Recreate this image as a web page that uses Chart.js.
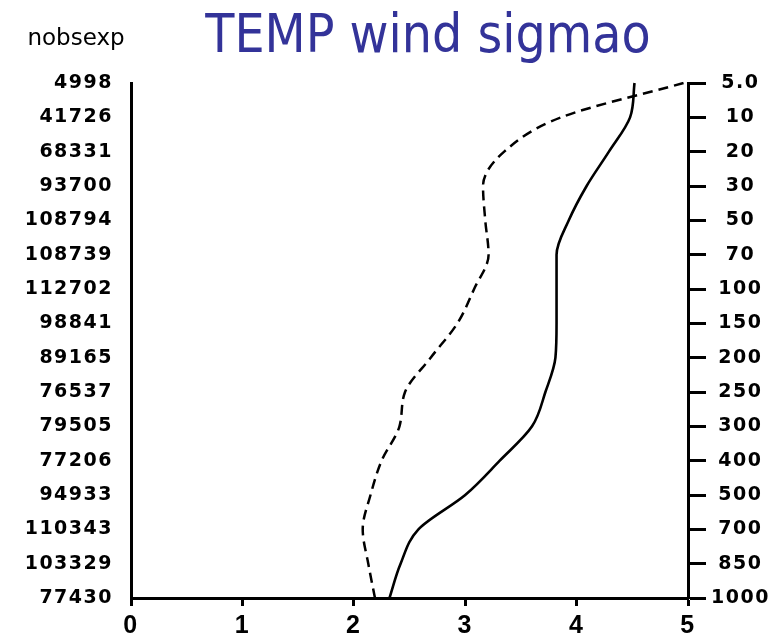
<!DOCTYPE html>
<html lang="en">
<head>
    <meta charset="UTF-8">
    <title>TEMP wind sigmao</title>
    <style>
        body {
            margin: 0;
            background: #fff;
        }
        #wrap {
            width: 780px;
            height: 640px;
        }
    </style>
    <script src="https://cdn.jsdelivr.net/npm/chart.js"></script>
</head>
<body>
    <div id="wrap"><canvas id="sigmaChart" width="780" height="640"></canvas></div>

    <script>
        // pressure levels (hPa), top to bottom
        const levels = ['5.0', '10', '20', '30', '50', '70', '100', '150', '200', '250', '300', '400', '500', '700', '850', '1000'];
        // number of obs used in the experiment at each level
        const nobsexp = [4998, 41726, 68331, 93700, 108794, 108739, 112702, 98841, 89165, 76537, 79505, 77206, 94933, 110343, 103329, 77430];
        // sigma o, solid and dashed curves
        const sigmaSolid = [4.52, 4.48, 4.29, 4.09, 3.93, 3.82, 3.82, 3.82, 3.81, 3.72, 3.60, 3.31, 3.00, 2.58, 2.42, 2.32];
        const sigmaDashed = [4.96, 3.86, 3.35, 3.16, 3.18, 3.21, 3.08, 2.93, 2.69, 2.46, 2.41, 2.25, 2.15, 2.08, 2.13, 2.19];
        const xTicks = [0, 1, 2, 3, 4, 5];

        // the reference labels are drawn in a wide face, so space them out a bit
        const wideLabels = {
            id: 'wideLabels',
            beforeDraw(chart) {
                chart.ctx.letterSpacing = '1.5px';
            },
            afterDraw(chart) {
                chart.ctx.letterSpacing = '0px';
            }
        };

        // title and the "nobsexp" heading
        const headerText = {
            id: 'headerText',
            afterDraw(chart) {
                const ctx = chart.ctx;
                ctx.save();
                ctx.letterSpacing = '0px';
                ctx.fillStyle = '#333399';
                ctx.font = "53px 'Comic Sans MS', 'DejaVu Sans Condensed', 'DejaVu Sans', sans-serif";
                ctx.textAlign = 'center';
                ctx.textBaseline = 'alphabetic';
                ctx.fillText('TEMP wind sigmao', 428, 52);
                ctx.fillStyle = '#000';
                ctx.font = "23px 'DejaVu Sans', sans-serif";
                ctx.fillText('nobsexp', 76, 45);
                ctx.restore();
            }
        };

        const ctx = document.getElementById('sigmaChart').getContext('2d');
        const sigmaChart = new Chart(ctx, {
            type: 'line',
            data: {
                labels: levels,
                datasets: [
                    {
                        label: 'solid',
                        data: sigmaSolid,
                        borderColor: '#000',
                        borderWidth: 2.6,
                        pointRadius: 0,
                        cubicInterpolationMode: 'monotone',
                        fill: false,
                        xAxisID: 'x',
                        yAxisID: 'y'
                    },
                    {
                        label: 'dashed',
                        data: sigmaDashed,
                        borderColor: '#000',
                        borderWidth: 2.5,
                        borderDash: [10, 6],
                        pointRadius: 0,
                        cubicInterpolationMode: 'monotone',
                        fill: false,
                        xAxisID: 'x',
                        yAxisID: 'y'
                    }
                ]
            },
            options: {
                indexAxis: 'y',
                responsive: false,
                animation: false,
                devicePixelRatio: 1,
                layout: {
                    padding: { top: 83, left: 0, right: 0, bottom: 0 }
                },
                plugins: {
                    legend: { display: false },
                    title: { display: false },
                    tooltip: { enabled: false }
                },
                scales: {
                    x: {
                        type: 'linear',
                        position: 'bottom',
                        min: 0,
                        max: 5,
                        afterBuildTicks(scale) {
                            scale.ticks = xTicks.map(v => ({ value: v }));
                        },
                        afterFit(scale) {
                            scale.height = 42;
                        },
                        grid: {
                            drawOnChartArea: false,
                            drawTicks: true,
                            tickLength: 8,
                            tickWidth: 3,
                            color: '#000'
                        },
                        border: { display: true, color: '#000', width: 3 },
                        ticks: {
                            color: '#000',
                            padding: 5,
                            maxRotation: 0,
                            font: { family: "'Liberation Sans', Arial, sans-serif", size: 25, weight: 'bold' }
                        }
                    },
                    y: {
                        type: 'category',
                        position: 'right',
                        afterFit(scale) {
                            scale.width = 92;
                        },
                        grid: {
                            drawOnChartArea: false,
                            drawTicks: true,
                            tickLength: 18,
                            tickWidth: 3,
                            color: '#000'
                        },
                        border: { display: true, color: '#000', width: 3 },
                        ticks: {
                            color: '#000',
                            padding: 8,
                            crossAlign: 'center',
                            autoSkip: false,
                            font: { family: "'DejaVu Sans', sans-serif", size: 19, weight: 'bold' }
                        }
                    },
                    y2: {
                        type: 'category',
                        axis: 'y',
                        position: 'left',
                        labels: nobsexp.map(String),
                        afterFit(scale) {
                            scale.width = 131;
                        },
                        grid: { display: false, drawTicks: false },
                        border: { display: true, color: '#000', width: 3 },
                        ticks: {
                            color: '#000',
                            padding: 18,
                            autoSkip: false,
                            font: { family: "'DejaVu Sans', sans-serif", size: 19, weight: 'bold' }
                        }
                    }
                }
            },
            plugins: [wideLabels, headerText]
        });
    </script>
</body>
</html>
